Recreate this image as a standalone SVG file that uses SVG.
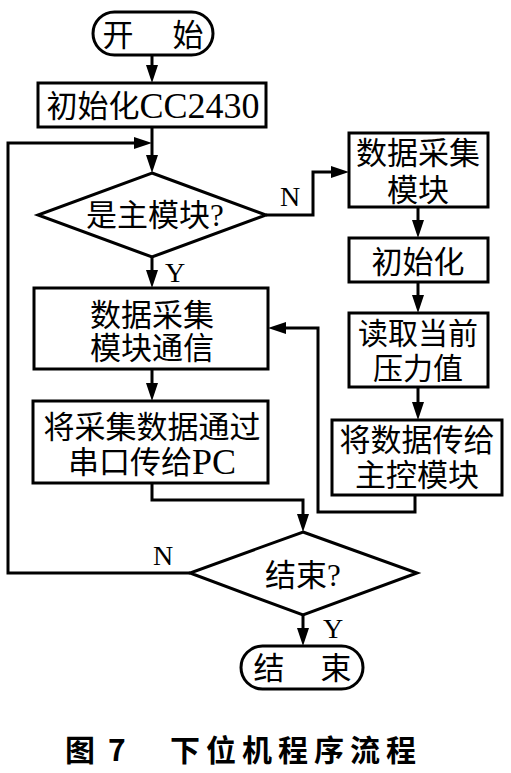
<svg xmlns="http://www.w3.org/2000/svg" width="511" height="773" viewBox="0 0 511 773">
<style>
.s{fill:#fff;stroke:#000;stroke-width:3}
.c{fill:none;stroke:#000;stroke-width:3}
.t{font-family:"Liberation Serif","Noto Sans CJK SC",serif;font-size:31px;fill:#000;text-anchor:middle;dominant-baseline:central}
.big{font-size:36px}
.l{font-family:"Liberation Serif",serif;font-size:28px;fill:#000;text-anchor:middle}
.cap{font-family:"Noto Sans CJK SC",sans-serif;font-size:30px;font-weight:bold;fill:#000;dominant-baseline:central}
</style>
<defs>
<marker id="a" markerUnits="userSpaceOnUse" markerWidth="20" markerHeight="14" refX="12" refY="6" orient="auto">
<path d="M0,0 L18,6 L0,12 z" fill="#000"/>
</marker>
</defs>
<rect width="511" height="773" fill="#fff"/>
<g id="connectors">
<path class="c" d="M152,55 V77" marker-end="url(#a)"/>
<path class="c" d="M152,127 V167" marker-end="url(#a)"/>
<path class="c" d="M266,215 H313 V172 H343" marker-end="url(#a)"/>
<path class="c" d="M418,207 V232" marker-end="url(#a)"/>
<path class="c" d="M418,282 V307" marker-end="url(#a)"/>
<path class="c" d="M418,387 V414" marker-end="url(#a)"/>
<path class="c" d="M415,495 V512 H318 V328 H274" marker-end="url(#a)"/>
<path class="c" d="M152,257 V282" marker-end="url(#a)"/>
<path class="c" d="M152,369 V395" marker-end="url(#a)"/>
<path class="c" d="M152,483 V500 H303 V526" marker-end="url(#a)"/>
<path class="c" d="M190,573 H8 V143 H146" marker-end="url(#a)"/>
<path class="c" d="M303,615 V640" marker-end="url(#a)"/>
<text class="l" x="290" y="206">N</text>
<text class="l" x="175" y="282">Y</text>
<text class="l" x="163" y="565">N</text>
<text class="l" x="333" y="638">Y</text>
</g>
<g id="start">
<rect class="s" x="93" y="12" width="120" height="43" rx="21.5"/>
<text class="t" x="118" y="35">开</text>
<text class="t" x="188" y="35">始</text>
</g>
<g id="init">
<rect class="s" x="38" y="83" width="228" height="44"/>
<text class="t" x="153" y="106">初始化<tspan class="big">CC2430</tspan></text>
</g>
<g id="isMaster">
<polygon class="s" points="152,173 266,215 152,257 38,215"/>
<text class="t" x="155" y="215">是主模块?</text>
</g>
<g id="comm">
<rect class="s" x="34" y="288" width="234" height="81"/>
<text class="t" x="152" y="315">数据采集</text>
<text class="t" x="152" y="348">模块通信</text>
</g>
<g id="toPC">
<rect class="s" x="33" y="401" width="235" height="82"/>
<text class="t" x="152" y="427">将采集数据通过</text>
<text class="t" x="152" y="462">串口传给<tspan class="big">PC</tspan></text>
</g>
<g id="collector">
<rect class="s" x="349" y="133" width="139" height="74"/>
<text class="t" x="418" y="153">数据采集</text>
<text class="t" x="418" y="190">模块</text>
</g>
<g id="init2">
<rect class="s" x="349" y="238" width="139" height="44"/>
<text class="t" x="418" y="262">初始化</text>
</g>
<g id="read">
<rect class="s" x="349" y="313" width="139" height="74"/>
<text class="t" x="418" y="333" style="font-size:30px">读取当前</text>
<text class="t" x="418" y="368" style="font-size:30px">压力值</text>
</g>
<g id="send">
<rect class="s" x="332" y="420" width="170" height="75"/>
<text class="t" x="417" y="440">将数据传给</text>
<text class="t" x="417" y="475">主控模块</text>
</g>
<g id="isEnd">
<polygon class="s" points="303,532 417,573 303,615 190,573"/>
<text class="t" x="303" y="575">结束?</text>
</g>
<g id="end">
<rect class="s" x="241" y="646" width="122" height="43" rx="21.5"/>
<text class="t" x="269" y="668">结</text>
<text class="t" x="336" y="668">束</text>
</g>
<g id="caption">
<text class="cap" y="748"><tspan x="65">图</tspan><tspan x="108">7</tspan><tspan x="170" letter-spacing="6">下位机程序流程</tspan></text>
</g>
</svg>
